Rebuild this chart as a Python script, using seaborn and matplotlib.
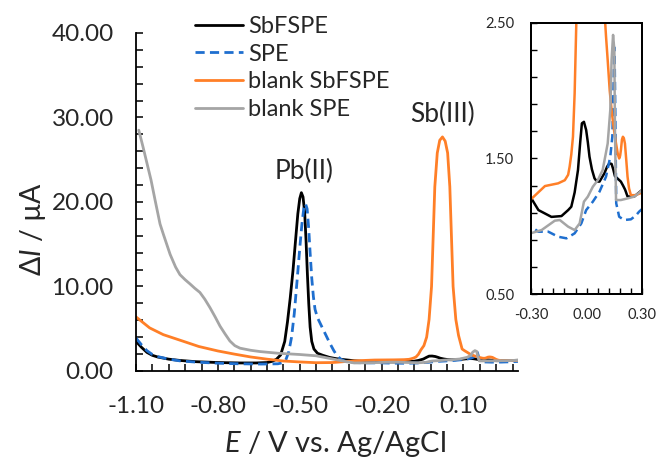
import numpy as np
import pandas as pd
import matplotlib
matplotlib.use('Agg')
import matplotlib.pyplot as plt
from matplotlib.patches import Rectangle
from matplotlib.ticker import FixedLocator, FormatStrFormatter
import seaborn as sns

# potentials (V) and currents (uA)
e_sbfspe = [-1.10, -1.08, -1.06, -1.04, -1.02, -0.98, -0.94, -0.88, -0.80, -0.72, -0.66, -0.62,
            -0.60, -0.585, -0.57, -0.555, -0.545, -0.535, -0.525, -0.515, -0.507, -0.500, -0.494,
            -0.488, -0.482, -0.477, -0.472, -0.467, -0.462, -0.456, -0.448, -0.435, -0.415, -0.39,
            -0.365, -0.34, -0.30, -0.26, -0.19, -0.136, -0.10, -0.083, -0.065, -0.047, -0.035,
            -0.026, -0.015, -0.003, 0.006, 0.015, 0.028, 0.042, 0.055, 0.069, 0.082, 0.095, 0.11,
            0.122, 0.134, 0.143, 0.152, 0.168, 0.184, 0.196, 0.207, 0.22, 0.256, 0.30]
i_sbfspe = [3.5, 2.8, 2.2, 1.85, 1.65, 1.4, 1.25, 1.1, 1.0, 0.95, 0.95, 1.0,
            1.15, 1.4, 1.9, 3.5, 5.8, 8.6, 11.8, 15.6, 18.6, 20.4, 21.1,
            20.6, 18.8, 15.5, 11.5, 8.0, 5.2, 3.5, 2.6, 2.1, 1.85, 1.6,
            1.45, 1.35, 1.21, 1.12, 1.07, 1.076, 1.12, 1.145, 1.25, 1.415, 1.62,
            1.759, 1.77, 1.71, 1.62, 1.513, 1.42, 1.354, 1.33, 1.33, 1.36, 1.39, 1.44,
            1.464, 1.46, 1.42, 1.37, 1.35, 1.33, 1.30, 1.27, 1.22, 1.22, 1.27]

e_spe = [-1.10, -1.08, -1.06, -1.04, -1.02, -0.98, -0.94, -0.88, -0.80, -0.72, -0.64, -0.58,
         -0.56, -0.55, -0.54, -0.53, -0.52, -0.51, -0.50, -0.492, -0.485, -0.479, -0.473,
         -0.467, -0.462, -0.456, -0.450, -0.444, -0.435, -0.42, -0.405, -0.39, -0.375, -0.365,
         -0.35, -0.33, -0.30, -0.261, -0.207, -0.154, -0.109, -0.065, -0.029, -0.003, 0.033,
         0.069, 0.104, 0.127, 0.138, 0.144, 0.148, 0.151, 0.154, 0.159, 0.175, 0.202, 0.238,
         0.265, 0.282, 0.30]
i_spe = [3.9, 3.1, 2.4, 1.95, 1.7, 1.4, 1.2, 1.05, 0.92, 0.85, 0.82, 0.85,
         1.0, 1.4, 2.3, 4.0, 6.8, 10.6, 14.5, 17.4, 19.3, 19.8, 19.2,
         16.8, 14.0, 11.0, 8.8, 7.3, 6.3, 5.3, 4.3, 3.3, 2.4, 1.9,
         1.4, 1.1, 1.0, 0.961, 0.961, 0.924, 0.912, 0.949, 1.022, 1.12, 1.182,
         1.256, 1.366, 1.513, 1.66, 2.0, 2.32, 2.2, 1.857, 1.17, 1.071, 1.047, 1.052,
         1.08, 1.108, 1.13]

e_blank_sbfspe = [-1.10, -1.05, -1.00, -0.93, -0.87, -0.80, -0.74, -0.68, -0.62, -0.56, -0.50,
                  -0.44, -0.38, -0.30, -0.225, -0.154, -0.118, -0.10, -0.092, -0.083, -0.074,
                  -0.065, -0.056, -0.045, -0.035, -0.026, -0.017, -0.011, -0.005, 0.004, 0.013,
                  0.023, 0.033, 0.042, 0.050, 0.056, 0.062, 0.072, 0.082, 0.095, 0.104, 0.113,
                  0.124, 0.134, 0.146, 0.158, 0.168, 0.175, 0.180, 0.184, 0.190, 0.195, 0.200,
                  0.206, 0.213, 0.22, 0.228, 0.238, 0.264, 0.30]
i_blank_sbfspe = [6.4, 5.1, 4.3, 3.55, 2.9, 2.37, 2.0, 1.66, 1.4, 1.18, 1.07,
                  0.98, 1.0, 1.2, 1.297, 1.317, 1.34, 1.38, 1.44, 1.53, 1.66,
                  1.98, 2.5, 3.0, 4.0, 6.1, 10.0, 15.9, 21.8, 25.8, 27.3,
                  27.7, 27.2, 25.8, 21.8, 15.9, 10.0, 6.1, 4.2, 2.6, 2.4, 2.225,
                  2.0, 1.857, 1.72, 1.61, 1.53, 1.50, 1.52, 1.56, 1.64, 1.66, 1.65,
                  1.61, 1.49, 1.366, 1.28, 1.23, 1.23, 1.25]

e_blank_spe = [-1.09, -1.075, -1.06, -1.045, -1.03, -1.012, -1.00, -0.975, -0.955, -0.939, -0.92,
               -0.902, -0.885, -0.866, -0.848, -0.829, -0.81, -0.792, -0.774, -0.756, -0.738,
               -0.719, -0.68, -0.646, -0.58, -0.50, -0.44, -0.40, -0.36, -0.33, -0.30, -0.243,
               -0.172, -0.145, -0.10, -0.065, -0.038, -0.015, 0.006, 0.033, 0.06, 0.086, 0.113,
               0.127, 0.134, 0.142, 0.149, 0.152, 0.158, 0.184, 0.22, 0.256, 0.30]
i_blank_spe = [28.5, 26.6, 24.6, 22.6, 20.2, 17.4, 16.2, 13.8, 12.3, 11.4, 10.8,
               10.3, 9.8, 9.3, 8.5, 7.5, 6.4, 5.3, 4.4, 3.55, 3.0,
               2.7, 2.45, 2.3, 2.1, 1.95, 1.8, 1.55, 1.3, 1.1, 0.95, 0.973,
               1.042, 1.047, 0.998, 0.973, 1.022, 1.182, 1.219, 1.292, 1.341, 1.415, 1.61,
               1.857, 2.225, 2.41, 2.30, 1.734, 1.194, 1.194, 1.206, 1.219, 1.268]

labels = ['SbFSPE', 'SPE', 'blank SbFSPE', 'blank SPE']
colors = ['#000000', '#1F6FCF', '#FF7F27', '#A5A5A5']

series = [(e_sbfspe, i_sbfspe), (e_spe, i_spe),
          (e_blank_sbfspe, i_blank_sbfspe), (e_blank_spe, i_blank_spe)]

sns.set_style('white')
plt.rcParams['font.family'] = ['Lato', 'DejaVu Sans']
plt.rcParams['mathtext.fontset'] = 'custom'
plt.rcParams['mathtext.it'] = 'Lato:italic'
plt.rcParams['mathtext.rm'] = 'Lato'

fig = plt.figure(figsize=(6.59, 4.62), dpi=100)
ax = fig.add_axes([0.2064, 0.197, 0.5797, 0.7316])
ins = fig.add_axes([0.8058, 0.363, 0.1690, 0.5879])


def draw(axis, lw):
    for (e, i), lab, col in zip(series, labels, colors):
        df = pd.DataFrame({'E': e, 'I': i})
        ls = (0, (3.3, 1.9)) if lab == 'SPE' else '-'
        sns.lineplot(data=df, x='E', y='I', ax=axis, color=col, lw=lw,
                     linestyle=ls, sort=False, label=lab, legend=False)


draw(ax, 2.0)
draw(ins, 1.8)

# main axes
ax.set_xlim(-1.10, 0.30)
ax.set_ylim(0, 40)
ax.xaxis.set_major_locator(FixedLocator(np.round(np.arange(-1.10, 0.31, 0.30), 2)))
ax.xaxis.set_minor_locator(FixedLocator(np.round(np.arange(-1.10, 0.31, 0.06), 2)))
ax.yaxis.set_major_locator(FixedLocator(np.arange(0, 41, 10)))
ax.yaxis.set_minor_locator(FixedLocator(np.arange(0, 41, 2)))
ax.xaxis.set_major_formatter(FormatStrFormatter('%.2f'))
ax.yaxis.set_major_formatter(FormatStrFormatter('%.2f'))
ax.tick_params(which='both', direction='in', length=5, width=1.1, color='black',
               bottom=True, left=True, top=False, right=False)
ax.tick_params(axis='x', which='major', pad=18, labelsize=17.5)
ax.tick_params(axis='y', which='major', pad=16, labelsize=17.5)
sns.despine(ax=ax)
for s in ['left', 'bottom']:
    ax.spines[s].set_color('black')
    ax.spines[s].set_linewidth(1.3)
ax.set_xlabel(r'$E$ / V vs. Ag/AgCl', fontsize=21)
ax.set_ylabel(r'Δ$I$ / µA', fontsize=20.5)
ax.xaxis.set_label_coords(0.52, -0.172)
ax.yaxis.set_label_coords(-0.23, 0.42)

ax.text(-0.485, 23.6, 'Pb(II)', fontsize=19, ha='center', va='center')
ax.text(0.024, 30.4, 'Sb(III)', fontsize=19, ha='center', va='center')

handles = ax.get_lines()[:4]
fig.legend(handles, labels, loc='upper left', bbox_to_anchor=(195 / 659, 1 - 16 / 462),
           frameon=False, fontsize=17, handlelength=2.05, handletextpad=0.2,
           labelspacing=0.28, borderpad=0, borderaxespad=0)

# inset axes, boxed on all four sides
ins.set_xlim(-0.30, 0.30)
ins.set_ylim(0.5, 2.5)
ins.xaxis.set_major_locator(FixedLocator([-0.30, 0.0, 0.30]))
ins.xaxis.set_minor_locator(FixedLocator(np.round(np.arange(-0.30, 0.31, 0.06), 2)))
ins.yaxis.set_major_locator(FixedLocator([0.5, 1.5, 2.5]))
ins.yaxis.set_minor_locator(FixedLocator(np.round(np.arange(0.5, 2.51, 0.2), 1)))
ins.xaxis.set_major_formatter(FormatStrFormatter('%.2f'))
ins.yaxis.set_major_formatter(FormatStrFormatter('%.2f'))
ins.tick_params(which='both', direction='in', length=4, width=1.0, color='black',
                bottom=True, left=True, top=False, right=False)
ins.tick_params(axis='x', which='major', pad=10, labelsize=10.5)
ins.tick_params(axis='y', which='major', pad=12, labelsize=10.5)
for s in ['left', 'right', 'top', 'bottom']:
    ins.spines[s].set_visible(True)
    ins.spines[s].set_color('black')
    ins.spines[s].set_linewidth(1.4)
ins.add_patch(Rectangle((0, 0), 1, 1, transform=ins.transAxes, fill=False,
                        edgecolor='black', lw=1.4, clip_on=False, zorder=5))
ins.set_xlabel('')
ins.set_ylabel('')

fig.savefig('out.png', dpi=100)
